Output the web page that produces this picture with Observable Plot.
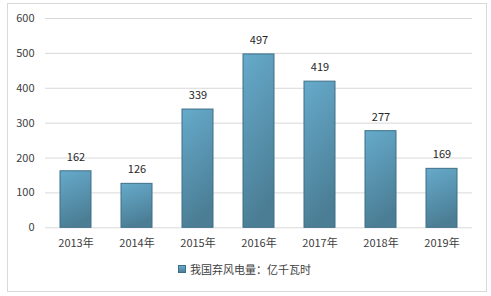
<!DOCTYPE html>
<html>
<head>
<meta charset="utf-8">
<script src="https://cdn.jsdelivr.net/npm/d3@7"></script>
<script src="https://cdn.jsdelivr.net/npm/@observablehq/plot@0.6"></script>
<style>
  body { margin: 0; background: #fff; }
  #wrap { position: relative; width: 491px; height: 296px; overflow: hidden; font-family: "Noto Sans CJK SC", "Liberation Sans", sans-serif; }
  #frame { position: absolute; left: 7px; top: 3px; width: 478px; height: 287px; border: 1px solid #d9d9d9; box-sizing: content-box; }
  #chart { position: absolute; left: 0; top: 0; }
  #legend { position: absolute; left: 178px; top: 261px; font-size: 11px; color: #404040; display: flex; align-items: center; white-space: nowrap; }
  #legend .sw { width: 6px; height: 6px; border: 1px solid #3e6f86; background: linear-gradient(#66aacb, #4d8198); margin-right: 4px; }
</style>
</head>
<body>
<div id="wrap">
  <div id="frame"></div>
  <div id="chart"></div>
  <div id="legend"><span class="sw"></span><span id="legendText"></span></div>
</div>
<script>
const years = ["2013年", "2014年", "2015年", "2016年", "2017年", "2018年", "2019年"];
const values = [162, 126, 339, 497, 419, 277, 169];
const yTicks = [0, 100, 200, 300, 400, 500, 600];
const seriesName = "我国弃风电量：亿千瓦时";

const data = years.map((y, i) => ({year: y, value: values[i]}));

const defs = () => {
  const ns = "http://www.w3.org/2000/svg";
  const d = document.createElementNS(ns, "defs");
  d.innerHTML = `<linearGradient id="barGrad" x1="0" y1="0" x2="0.25" y2="1">
      <stop offset="0" stop-color="#66aacb"/>
      <stop offset="1" stop-color="#4b7e95"/>
    </linearGradient>`;
  return d;
};

const chart = Plot.plot({
  width: 491,
  height: 258,
  marginLeft: 45,
  marginRight: 19,
  marginTop: 18,
  marginBottom: 30.7,
  style: { fontFamily: '"Noto Sans CJK SC", "Liberation Sans", sans-serif', fontSize: "11px", color: "#404040", background: "transparent" },
  x: { domain: years, paddingInner: 0.484, paddingOuter: 0.242, label: null },
  y: { domain: [0, 600], label: null },
  marks: [
    defs,
    Plot.gridY(yTicks, { stroke: "#d9d9d9", strokeOpacity: 1, strokeWidth: 1 }),
    Plot.axisY(yTicks, { tickSize: 0, tickPadding: 11, label: null, fill: "#404040" }),
    Plot.axisX({ tickSize: 0, tickPadding: 11, label: null, fill: "#404040" }),
    Plot.barY(data, { x: "year", y: "value", fill: "url(#barGrad)", stroke: "#3e6f86", strokeWidth: 1 }),
    Plot.text(data, { x: "year", y: "value", text: d => String(d.value), dy: -14, fill: "#262626", fontSize: 11 })
  ]
});
document.getElementById("chart").appendChild(chart);
document.getElementById("legendText").textContent = seriesName;
</script>
</body>
</html>
